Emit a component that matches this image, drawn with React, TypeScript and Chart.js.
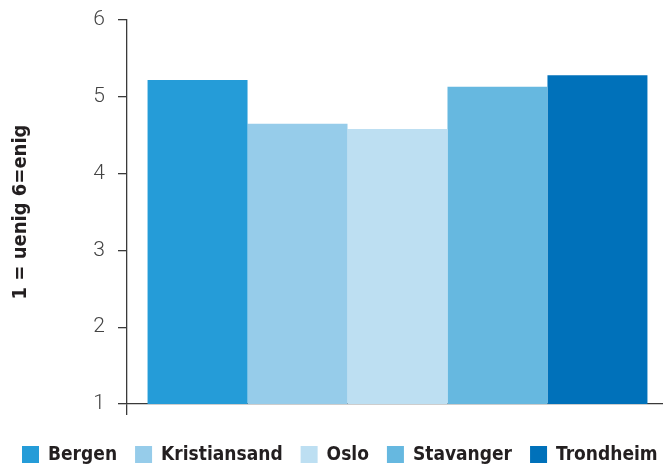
import { useEffect, useRef } from "react";
import { Chart, registerables } from "chart.js";

Chart.register(...registerables);

// Mean agreement score per city (scale 1–6)
const cities = ["Bergen", "Kristiansand", "Oslo", "Stavanger", "Trondheim"];
const scores = [5.22, 4.65, 4.58, 5.13, 5.28];
const cityColors = ["#259CD8", "#96CCEA", "#BDDFF2", "#66B8E0", "#0071BA"];
const yMin = 1;
const yMax = 6;
const yTitle = "1 = uenig 6=enig";

const AXIS_COLOR = "#3a3a3a";
const TEXT_COLOR = "#231f20";
const LEGEND_FONT = "bold 19px 'DejaVu Sans Condensed', 'DejaVu Sans', sans-serif";
const LEGEND_BOX = 17;

// Simple single-row legend drawn under the plot
const cityLegend = {
  id: "cityLegend",
  afterDraw(chart: any) {
    const { ctx, chartArea } = chart;
    ctx.save();
    ctx.font = LEGEND_FONT;
    ctx.textBaseline = "middle";
    ctx.textAlign = "left";
    let x = 22;
    const top = chartArea.bottom + 42;
    chart.data.datasets.forEach((ds: any) => {
      ctx.fillStyle = ds.backgroundColor;
      ctx.fillRect(x, top, LEGEND_BOX, LEGEND_BOX);
      x += LEGEND_BOX + 9;
      ctx.fillStyle = TEXT_COLOR;
      ctx.fillText(ds.label, x, top + LEGEND_BOX / 2 + 1);
      x += ctx.measureText(ds.label).width + 18;
    });
    ctx.restore();
  },
};

export default function App() {
  const canvasRef = useRef<HTMLCanvasElement | null>(null);

  useEffect(() => {
    if (!canvasRef.current) return;
    const chart = new Chart(canvasRef.current, {
      type: "bar",
      data: {
        labels: [""],
        datasets: cities.map((city, i) => ({
          label: city,
          data: [scores[i]],
          backgroundColor: cityColors[i],
          borderWidth: 0,
          categoryPercentage: 0.924,
          barPercentage: 1,
        })),
      },
      options: {
        responsive: false,
        animation: false,
        devicePixelRatio: 1,
        layout: { padding: { top: 20, left: 0, right: 0, bottom: 0 } },
        plugins: {
          legend: { display: false },
          tooltip: { enabled: false },
          title: { display: false },
        },
        scales: {
          x: {
            type: "category",
            z: 1,
            offset: true,
            grid: {
              drawOnChartArea: false,
              drawTicks: true,
              tickLength: 11,
              color: AXIS_COLOR,
              lineWidth: 1.3,
            },
            border: { display: true, color: AXIS_COLOR, width: 1.3 },
            ticks: { display: false },
            afterFit(scale: any) {
              scale.height = 62;
              scale.paddingLeft = 0;
              scale.paddingRight = 0;
            },
          },
          y: {
            type: "linear",
            z: 1,
            min: yMin,
            max: yMax,
            grid: {
              drawOnChartArea: false,
              drawTicks: true,
              tickLength: 9,
              color: AXIS_COLOR,
              lineWidth: 1.3,
            },
            border: { display: true, color: AXIS_COLOR, width: 1.3 },
            ticks: {
              stepSize: 1,
              padding: 13,
              color: "#444444",
              font: { family: "Roboto, 'DejaVu Sans', sans-serif", size: 21, weight: "300" },
            },
            title: {
              display: true,
              text: yTitle,
              color: TEXT_COLOR,
              padding: { top: 9, bottom: 0 },
              font: {
                family: "'DejaVu Sans Condensed', 'DejaVu Sans', sans-serif",
                size: 20,
                weight: "bold",
                lineHeight: 1.2,
              },
            },
            afterFit(scale: any) {
              scale.width = 127;
              scale.paddingTop = 0;
              scale.paddingBottom = 0;
            },
          },
        },
      },
      plugins: [cityLegend],
    });
    return () => chart.destroy();
  }, []);

  return (
    <div
      style={{
        position: "fixed",
        left: 0,
        top: 0,
        width: 663,
        height: 466,
        overflow: "hidden",
        background: "#ffffff",
      }}
    >
      <canvas ref={canvasRef} width={668} height={466} style={{ width: 668, height: 466, display: "block" }} />
    </div>
  );
}
